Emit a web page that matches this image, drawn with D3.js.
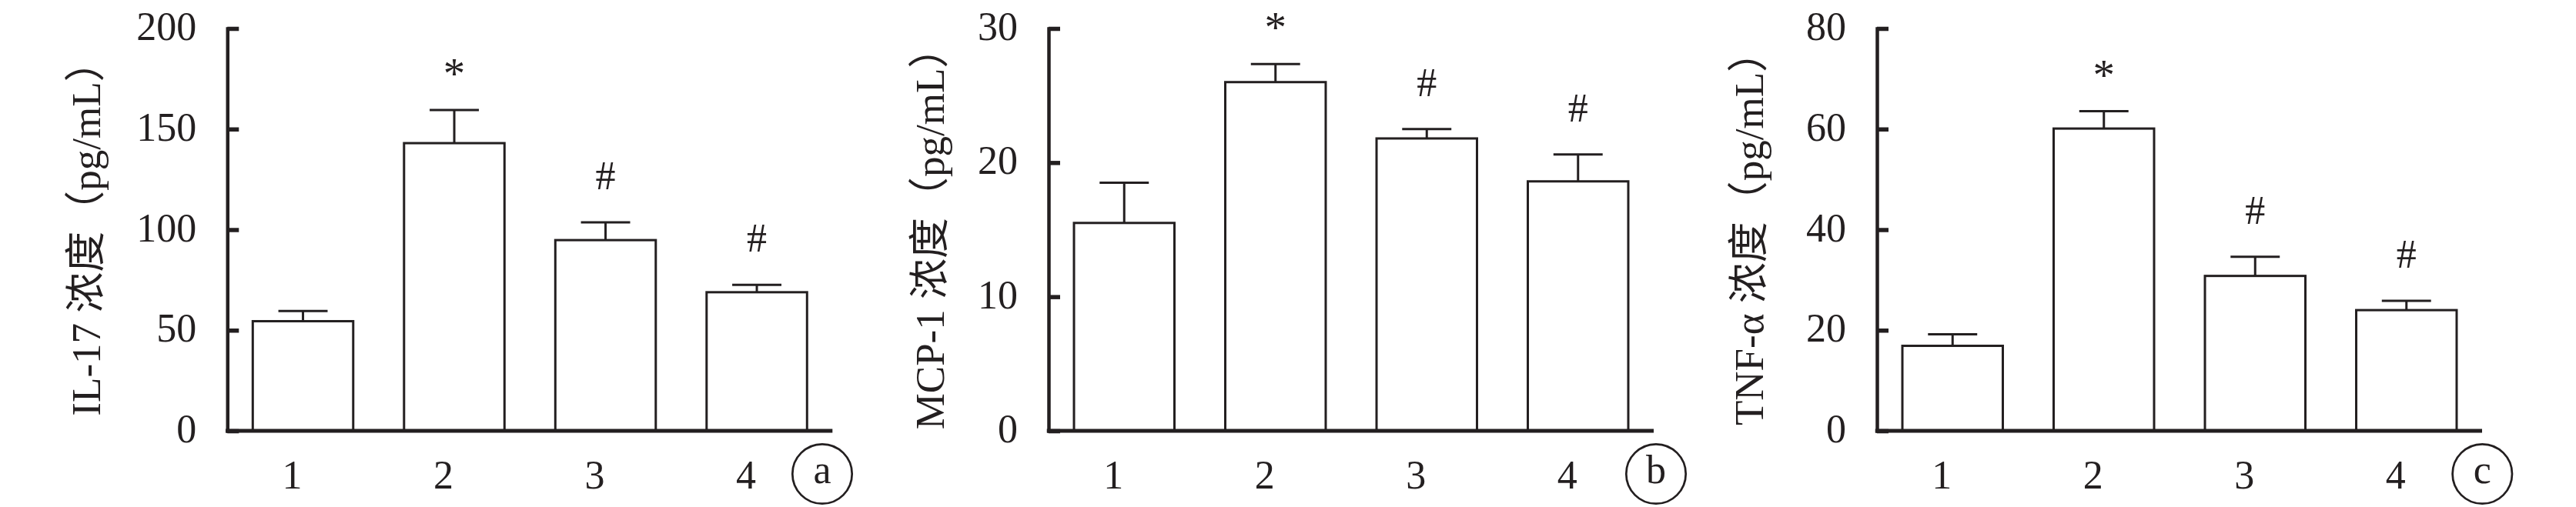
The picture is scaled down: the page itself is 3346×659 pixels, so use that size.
<!DOCTYPE html>
<html>
<head>
<meta charset="utf-8">
<script src="https://cdn.jsdelivr.net/npm/d3@7"></script>
<style>
  html, body { margin: 0; padding: 0; background: #ffffff; }
  svg { display: block; }
</style>
</head>
<body>
<svg id="chart" width="3346" height="659"></svg>
<script>
// ---------------- data ----------------
const categories = ["1", "2", "3", "4"];

const il17Means  = [54.5, 143.0, 94.8, 68.9];
const il17Errors = [5.1, 16.5, 8.8, 3.7];
const il17Marks  = ["", "*", "#", "#"];
const il17Ticks  = [0, 50, 100, 150, 200];

const mcp1Means  = [15.5, 26.0, 21.8, 18.6];
const mcp1Errors = [3.0, 1.35, 0.7, 2.0];
const mcp1Marks  = ["", "*", "#", "#"];
const mcp1Ticks  = [0, 10, 20, 30];

const tnfMeans   = [16.9, 60.1, 30.8, 24.0];
const tnfErrors  = [2.3, 3.45, 3.8, 1.85];
const tnfMarks   = ["", "*", "#", "#"];
const tnfTicks   = [0, 20, 40, 60, 80];

const yLabels    = ["IL-17 浓度（pg/mL）", "MCP-1 浓度（pg/mL）", "TNF-α 浓度（pg/mL）"];
const panelTags  = ["a", "b", "c"];

// ---------------- layout ----------------
const panels = [
  { means: il17Means, errors: il17Errors, marks: il17Marks, ticks: il17Ticks, axisX: 295.3, labelX: 130,  tagDX: 772.7 },
  { means: mcp1Means, errors: mcp1Errors, marks: mcp1Marks, ticks: mcp1Ticks, axisX: 1362,  labelX: 1226, tagDX: 789 },
  { means: tnfMeans,  errors: tnfErrors,  marks: tnfMarks,  ticks: tnfTicks,  axisX: 2438,  labelX: 2290, tagDX: 786.3 }
];

const ink = "#231f20";
const serif = "'Liberation Serif', 'Times New Roman', 'Noto Sans CJK SC', serif";
const plotW = 786, yTop = 37, yBottom = 560;
const fontSize = 52;
const markStyle = { "*": { size: 57, lift: 28 }, "#": { size: 52, lift: 43 } };

const svg = d3.select("#chart");

panels.forEach((p, i) => {
  const g = svg.append("g").attr("transform", `translate(${p.axisX},0)`);

  const x = d3.scaleBand().domain(categories).range([0, plotW])
    .paddingInner(0.336).paddingOuter(0.168);
  const y = d3.scaleLinear().domain([0, d3.max(p.ticks)]).range([yBottom, yTop]);

  const rows = categories.map((c, k) => ({ c, m: p.means[k], e: p.errors[k], s: p.marks[k] }));

  // bars
  g.selectAll("rect.bar").data(rows).join("rect")
    .attr("class", "bar")
    .attr("x", d => x(d.c))
    .attr("width", x.bandwidth())
    .attr("y", d => y(d.m))
    .attr("height", d => y(0) - y(d.m))
    .attr("fill", "#ffffff")
    .attr("stroke", ink)
    .attr("stroke-width", 3);

  // error bars
  const cx = d => x(d.c) + x.bandwidth() / 2;
  const capHalf = x.bandwidth() * 0.245;
  g.selectAll("line.err").data(rows).join("line")
    .attr("class", "err")
    .attr("x1", cx).attr("x2", cx)
    .attr("y1", d => y(d.m)).attr("y2", d => y(d.m + d.e))
    .attr("stroke", ink).attr("stroke-width", 3);
  g.selectAll("line.cap").data(rows).join("line")
    .attr("class", "cap")
    .attr("x1", d => cx(d) - capHalf).attr("x2", d => cx(d) + capHalf)
    .attr("y1", d => y(d.m + d.e)).attr("y2", d => y(d.m + d.e))
    .attr("stroke", ink).attr("stroke-width", 3);

  // significance marks
  g.selectAll("text.mark").data(rows.filter(d => d.s)).join("text")
    .attr("class", "mark")
    .attr("x", cx)
    .attr("y", d => y(d.m + d.e) - markStyle[d.s].lift)
    .attr("text-anchor", "middle")
    .attr("font-family", serif)
    .attr("font-size", d => markStyle[d.s].size)
    .attr("fill", ink)
    .text(d => d.s);

  // y axis
  const yAxis = d3.axisLeft(y).tickValues(p.ticks)
    .tickSizeInner(-15).tickSizeOuter(0).tickPadding(40);
  const ya = g.append("g").call(yAxis);
  ya.select(".domain").attr("stroke", ink).attr("stroke-width", 4.5).attr("stroke-linecap", "square");
  ya.selectAll(".tick line").attr("stroke", ink).attr("stroke-width", 5.5);
  ya.selectAll(".tick text")
    .attr("font-family", serif).attr("font-size", fontSize).attr("fill", ink)
    .attr("dy", "0.28em");

  // x axis
  const xAxis = d3.axisBottom(x).tickSize(0).tickPadding(0);
  const xa = g.append("g").attr("transform", `translate(0,${yBottom})`).call(xAxis);
  xa.select(".domain").remove();
  g.append("line")
    .attr("x1", -2.25).attr("x2", plotW)
    .attr("y1", yBottom).attr("y2", yBottom)
    .attr("stroke", ink).attr("stroke-width", 5);
  xa.selectAll(".tick text")
    .attr("font-family", serif).attr("font-size", fontSize).attr("fill", ink)
    .attr("y", 75).attr("dy", null).attr("dx", -14);

  // y label
  svg.append("text")
    .attr("transform", `translate(${p.labelX},297) rotate(-90)`)
    .attr("text-anchor", "middle")
    .attr("font-family", serif)
    .attr("font-size", 53)
    .attr("fill", ink)
    .text(yLabels[i]);

  // panel tag
  const tg = g.append("g").attr("transform", `translate(${p.tagDX},616)`);
  tg.append("circle").attr("r", 38.7).attr("fill", "none").attr("stroke", ink).attr("stroke-width", 2.7);
  tg.append("text").attr("y", 12).attr("text-anchor", "middle")
    .attr("font-family", serif).attr("font-size", fontSize).attr("fill", ink)
    .text(panelTags[i]);
});
</script>
</body>
</html>
